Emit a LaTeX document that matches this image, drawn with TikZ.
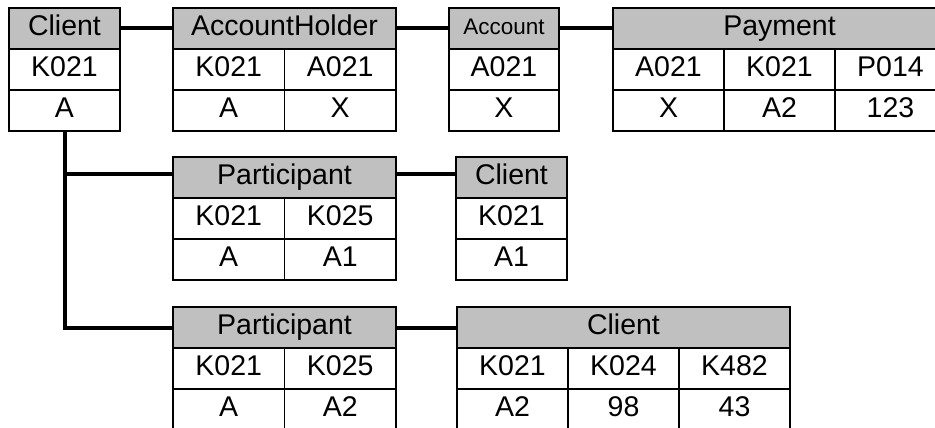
\documentclass[tikz,border=0pt]{standalone}
\usepackage{fontspec}
\setmainfont{Liberation Sans}
\usepackage{xcolor}
\usepackage{tikz}
\usetikzlibrary{positioning}
\definecolor{headgray}{HTML}{C0C0C0}
\newcommand{\tabfont}{\fontsize{28.5}{30}\selectfont}
\newcommand{\smallfont}{\fontsize{22.5}{24}\selectfont}

\begin{document}
\begin{tikzpicture}[
    x=1pt, y=1pt,
    node distance=0pt,
    head/.style={rectangle, draw, fill=headgray, minimum height=41pt, inner sep=0pt, outer sep=0pt, line width=1.6pt, text height=20pt, text depth=5.5pt, font=\tabfont},
    cell/.style={rectangle, draw, fill=white, minimum width=111.5pt, minimum height=41pt, inner sep=0pt, outer sep=0pt, line width=1.6pt, text height=20pt, text depth=5.5pt, font=\tabfont},
    link/.style={line width=4pt}
]
\useasboundingbox (0,0) rectangle (935,-428);
\clip (0,0) rectangle (935,-428);

\node[head, minimum width=111pt] (cli) at (64.5,-28.5) {Client};
\node[cell, minimum width=111pt, below=of cli] (cliA) {K021};
\node[cell, minimum width=111pt, below=of cliA] (cliB) {A};

\node[head, minimum width=223pt] (hold) at (284.5,-28.5) {AccountHolder};
\node[cell, anchor=north west] (holdA) at (hold.south west) {K021};
\node[cell, right=of holdA] (holdB) {A021};
\node[cell, below=of holdA] (holdC) {A};
\node[cell, right=of holdC] (holdD) {X};

\node[head, minimum width=110pt, font=\smallfont, text height=16pt, text depth=4.5pt] (acc) at (504,-28.5) {Account};
\node[cell, minimum width=110pt, below=of acc] (accA) {A021};
\node[cell, minimum width=110pt, below=of accA] (accB) {X};

\node[head, minimum width=333pt] (pay) at (779.5,-28.5) {Payment};
\node[cell, minimum width=111pt, anchor=north west] (payA) at (pay.south west) {A021};
\node[cell, minimum width=111pt, right=of payA] (payB) {K021};
\node[cell, minimum width=111pt, right=of payB] (payC) {P014};
\node[cell, minimum width=111pt, below=of payA] (payD) {X};
\node[cell, minimum width=111pt, right=of payD] (payE) {A2};
\node[cell, minimum width=111pt, right=of payE] (payF) {123};

\node[head, minimum width=223pt] (partI) at (284.5,-177.5) {Participant};
\node[cell, anchor=north west] (partIA) at (partI.south west) {K021};
\node[cell, right=of partIA] (partIB) {K025};
\node[cell, below=of partIA] (partIC) {A};
\node[cell, right=of partIC] (partID) {A1};

\node[head, minimum width=111pt] (cliI) at (511.5,-177.5) {Client};
\node[cell, minimum width=111pt, below=of cliI] (cliIA) {K021};
\node[cell, minimum width=111pt, below=of cliIA] (cliIB) {A1};

\node[head, minimum width=223pt] (partII) at (284.5,-327.5) {Participant};
\node[cell, anchor=north west] (partIIA) at (partII.south west) {K021};
\node[cell, right=of partIIA] (partIIB) {K025};
\node[cell, below=of partIIA] (partIIC) {A};
\node[cell, right=of partIIC] (partIID) {A2};

\node[head, minimum width=333pt] (cliII) at (623.5,-327.5) {Client};
\node[cell, minimum width=111pt, anchor=north west] (cliIIA) at (cliII.south west) {K021};
\node[cell, minimum width=111pt, right=of cliIIA] (cliIIB) {K024};
\node[cell, minimum width=111pt, right=of cliIIB] (cliIIC) {K482};
\node[cell, minimum width=111pt, below=of cliIIA] (cliIID) {A2};
\node[cell, minimum width=111pt, right=of cliIID] (cliIIE) {98};
\node[cell, minimum width=111pt, right=of cliIIE] (cliIIF) {43};

\draw[link] (cli) -- (hold);
\draw[link] (hold) -- (acc);
\draw[link] (acc) -- (pay);
\draw[link] ([yshift=4pt]partI.east) -- ([yshift=4pt]cliI.west);
\draw[link] (partII) -- (cliII);
\draw[link] (cliB.south) |- (partII.west);
\draw[link] ([yshift=4pt]cliB.south |- partI.west) -- ([yshift=4pt]partI.west);

\end{tikzpicture}
\end{document}
